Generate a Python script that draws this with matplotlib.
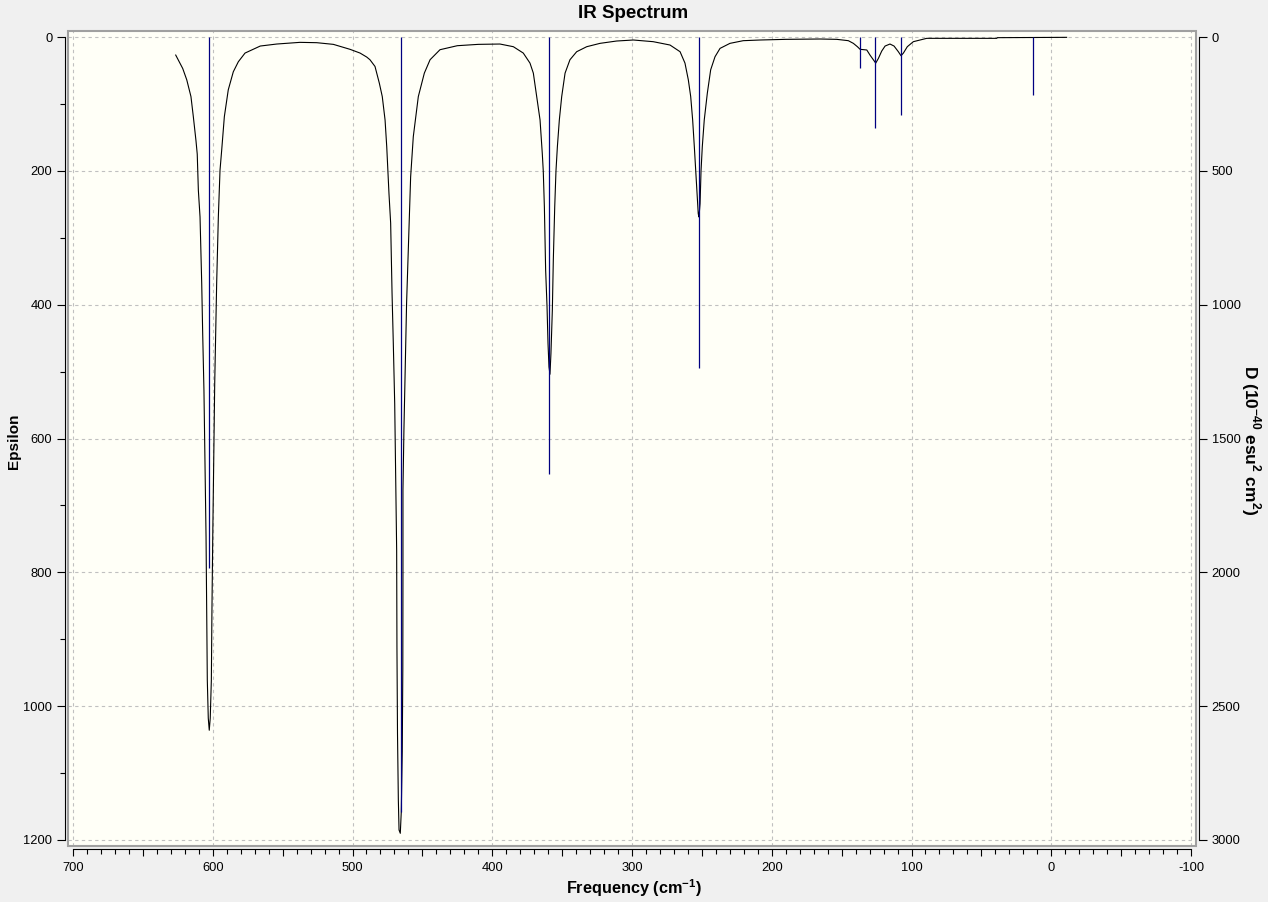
import numpy as np
import matplotlib
matplotlib.use("Agg")
import matplotlib.pyplot as plt
from matplotlib.ticker import MultipleLocator, FuncFormatter
from matplotlib.patches import Rectangle

plt.rcParams['font.family'] = ['Liberation Sans', 'DejaVu Sans']
plt.rcParams['mathtext.fontset'] = 'custom'
plt.rcParams['mathtext.rm'] = 'Liberation Sans'
plt.rcParams['mathtext.bf'] = 'Liberation Sans:bold'

# Stick spectrum (frequency cm-1, dipole strength D in 1e-40 esu^2 cm^2)
stick_freq = [602.6, 465.5, 359.2, 251.8, 136.6, 125.9, 107.3, 12.8]
stick_D = [1983, 2895, 1633, 1238, 115, 341, 290, 215]

# Broadened curve (frequency, epsilon)
curve_freq = [626.5, 621.5, 618.6, 615.6, 613.9, 612.0, 611.1, 610.3, 609.1,
              607.9, 607.2, 606.3, 605.6, 604.8, 604.3, 603.9, 603.2, 602.5,
              601.8, 601.0, 600.6, 600.0, 599.3, 598.6, 597.9, 597.2, 596.0,
              594.8, 593.6, 591.7, 588.9, 585.3, 581.7, 576.9, 566.0, 554.2,
              537.6, 525.6, 513.7, 501.8, 494.6, 489.8, 487.5, 483.9, 480.8,
              478.7, 476.7, 475.5, 473.9, 472.7, 471.7, 470.8, 469.8, 469.1,
              468.4, 468.2, 467.8, 467.2, 466.7, 465.8, 465.1, 464.4, 464.0,
              463.9, 463.9, 463.2, 462.2, 461.3, 460.1, 458.4, 456.5, 452.9,
              448.6, 444.5, 437.4, 425.0, 410.0, 394.5, 384.9, 377.8, 373.0,
              370.6, 368.2, 365.8, 364.2, 363.5, 362.7, 361.8, 360.8, 360.1,
              359.4, 358.7, 358.0, 357.0, 356.3, 355.3, 354.4, 353.4, 352.0,
              350.3, 347.9, 344.4, 339.6, 332.4, 322.9, 311.0, 299.0, 284.8,
              272.8, 265.6, 262.1, 259.7, 258.0, 256.6, 255.4, 254.4, 253.5,
              252.6, 252.1, 251.3, 250.6, 249.7, 248.3, 246.1, 243.7, 240.6,
              237.0, 229.9, 220.4, 208.4, 190.0, 165.5, 153.5, 145.2, 141.6,
              138.7, 136.8, 132.0, 129.7, 127.3, 125.6, 123.7, 121.3, 118.9,
              115.4, 112.5, 109.4, 107.5, 105.8, 103.0, 98.7, 93.9, 89.1,
              39.0, 38.5, -11.0]
curve_eps = [27, 47, 64, 89, 119, 155, 175, 229, 269,
             368, 443, 528, 632, 747, 861, 961, 1018, 1036,
             1018, 961, 861, 747, 632, 518, 443, 368, 269,
             199, 169, 119, 79, 52, 37, 24, 13.5, 10.5,
             8, 8.5, 11, 18.4, 24, 30, 34, 44, 69,
             89, 124, 164, 234, 278, 383, 458, 548, 652,
             767, 911, 1041, 1140, 1185, 1190, 1158, 1068, 944,
             800, 677, 587, 488, 398, 318, 209, 149, 89,
             54, 34, 19, 13, 11, 10.5, 14.5, 24, 39,
             54, 89, 124, 174, 200, 254, 348, 403, 458,
             493, 504, 473, 408, 333, 254, 200, 164, 124,
             89, 54, 34, 22, 14.5, 9.5, 6, 4.5, 7,
             12, 22, 39, 64, 89, 124, 164, 200, 234,
             264, 269, 249, 200, 164, 124, 84, 49, 29.5,
             17, 9.5, 5.5, 4.5, 3.5, 3, 3.5, 5.5, 9.5,
             14.5, 18.4, 19.4, 27, 34, 39, 32, 21, 13.5,
             10.5, 13.5, 22, 28, 24, 14.5, 7, 4.5, 2,
             2, 1, 0.5]

W, H = 1268, 902
fig = plt.figure(figsize=(W / 100, H / 100), dpi=100, facecolor='#f0f0f0')
box_l, box_r, box_t, box_b = 68, 1196, 31, 846
ax = fig.add_axes([box_l / W, 1 - box_b / H, (box_r - box_l) / W, (box_b - box_t) / H])
ax.set_facecolor('#fffff7')

px_x = (1191 - 73) / 800.0
px_y = (840 - 37) / 1200.0
ax.set_xlim(700 + (73 - box_l) / px_x, -100 - (box_r - 1191) / px_x)
ax.set_ylim(1200 + (box_b - 840) / px_y, 0 - (37 - box_t) / px_y)

# dashed grid
for v in np.arange(-100, 701, 100):
    ax.axvline(v, color='#c0c0c0', lw=0.8, ls=(0, (3, 3)), zorder=0)
for v in np.arange(0, 1201, 200):
    ax.axhline(v, color='#c0c0c0', lw=0.8, ls=(0, (3, 3)), zorder=0)

ax.plot(curve_freq, curve_eps, color='black', lw=0.8, zorder=3)

ax.add_patch(Rectangle((0, 0), 1, 1, transform=ax.transAxes, fill=False,
                       edgecolor='#a0a0a0', lw=1.5, clip_on=False, zorder=5))
for s in ['top', 'right']:
    ax.spines[s].set_visible(False)
ax.spines['left'].set_position(('outward', 2.5))
ax.spines['left'].set_bounds(0, 1200)
ax.spines['bottom'].set_position(('outward', 2.5))
ax.spines['bottom'].set_bounds(-100, 700)

ax.xaxis.set_major_locator(MultipleLocator(50))
ax.xaxis.set_minor_locator(MultipleLocator(10))
ax.xaxis.set_major_formatter(FuncFormatter(lambda v, p: '%d' % v if round(v) % 100 == 0 else ''))
ax.yaxis.set_major_locator(MultipleLocator(200))
ax.yaxis.set_minor_locator(MultipleLocator(100))
ax.tick_params(axis='x', which='major', length=5.2, width=0.8, labelsize=9.3, pad=3.5)
ax.tick_params(axis='x', which='minor', length=3.4, width=0.8)
ax.tick_params(axis='y', which='major', length=5.8, width=0.8, labelsize=9.3, pad=3)
ax.tick_params(axis='y', which='minor', length=3.6, width=0.8)

ax2 = ax.twinx()
ax2.set_ylim(ax.get_ylim()[0] * 2.5, ax.get_ylim()[1] * 2.5)
ax2.vlines(stick_freq, 0, stick_D, color='#000080', lw=0.9, zorder=2)
for s in ['top', 'left', 'bottom']:
    ax2.spines[s].set_visible(False)
ax2.spines['right'].set_position(('outward', 2.5))
ax2.spines['right'].set_bounds(0, 3000)
ax2.yaxis.set_major_locator(MultipleLocator(500))
ax2.tick_params(axis='y', which='major', length=5.8, width=0.8, labelsize=9.3, pad=3)

fig.text(633 / W, 1 - 14 / H, 'IR Spectrum', ha='center', va='center',
         fontsize=13.5, fontweight='bold')
fig.text(634 / W, 1 - 888 / H, 'Frequency (cm$^{\\mathbf{-1}}$)', ha='center', va='center',
         fontsize=11.7, fontweight='bold')
fig.text(14 / W, 1 - 441 / H, 'Epsilon', ha='center', va='center', rotation=90,
         fontsize=11, fontweight='bold')
fig.text(1251 / W, 1 - 440 / H, 'D (10$^{\\mathbf{-40}}$ esu$^{\\mathbf{2}}$ cm$^{\\mathbf{2}}$)',
         ha='center', va='center', rotation=270, fontsize=12.5, fontweight='bold')

fig.savefig('out.png', dpi=100, facecolor=fig.get_facecolor())
